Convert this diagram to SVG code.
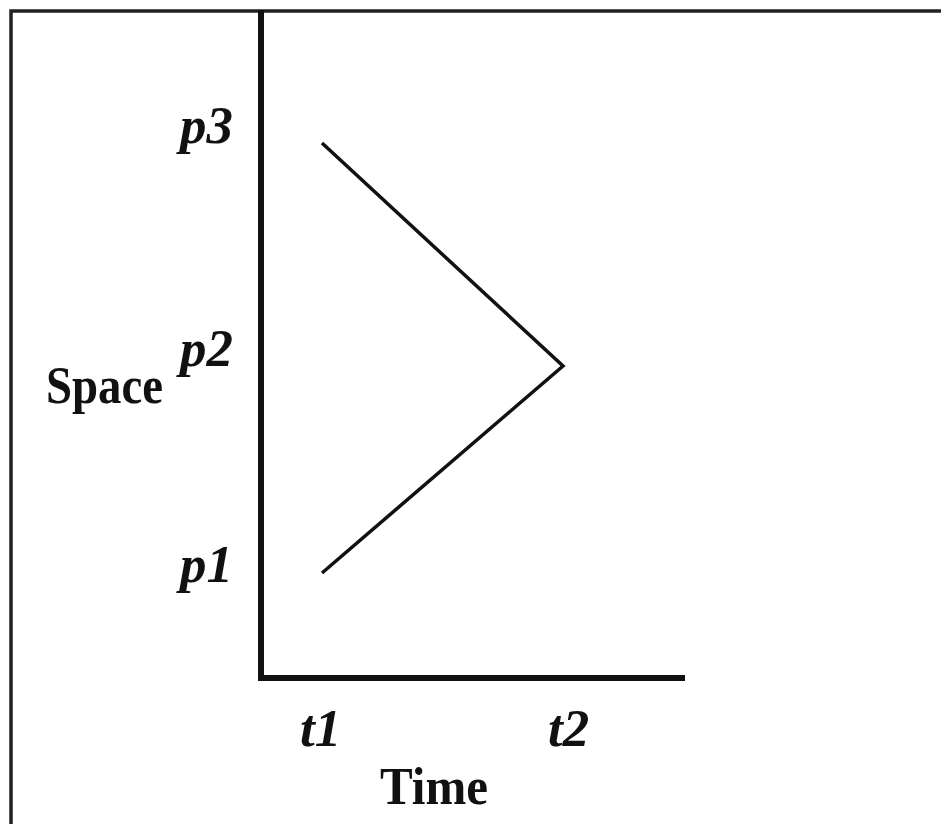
<svg xmlns="http://www.w3.org/2000/svg" width="941" height="824" viewBox="0 0 941 824">
<style>
.lbl{font-family:"Liberation Serif","Times New Roman",serif;font-weight:bold;font-size:53px;fill:#111}
.it{font-style:italic}
.ax{stroke:#111;stroke-width:6;fill:none}
.ln{stroke:#111;stroke-width:3.5;fill:none}
</style>
<rect x="0" y="0" width="941" height="824" fill="#fff"/>
<g id="frame"><path d="M11,830 V11 H945" fill="none" stroke="#222" stroke-width="3.5"/></g>
<g id="axes"><path class="ax" d="M261,10 V678 H685"/></g>
<g id="connectors"><polyline class="ln" points="322,143 563,366 322,573"/></g>
<g id="label-p3"><text class="lbl it" x="180" y="143">p3</text></g>
<g id="label-p2"><text class="lbl it" x="180" y="366">p2</text></g>
<g id="label-p1"><text class="lbl it" x="180" y="582">p1</text></g>
<g id="label-space"><text class="lbl" x="46" y="403" textLength="117" lengthAdjust="spacingAndGlyphs">Space</text></g>
<g id="label-t1"><text class="lbl it" x="300" y="746">t1</text></g>
<g id="label-t2"><text class="lbl it" x="548" y="746">t2</text></g>
<g id="label-time"><text class="lbl" x="380" y="804" textLength="108" lengthAdjust="spacingAndGlyphs">Time</text></g>
</svg>
